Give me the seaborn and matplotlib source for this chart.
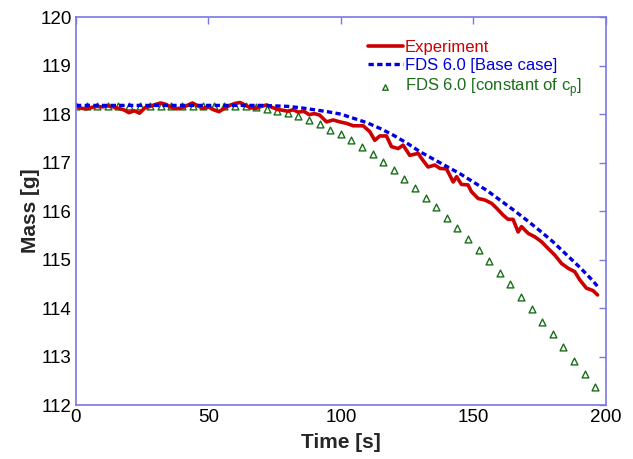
import matplotlib
matplotlib.use('Agg')
import matplotlib.pyplot as plt
import seaborn as sns
import pandas as pd

# Experiment (measured mass, noisy)
t_exp = [0, 2, 4, 6, 8, 10, 12, 14, 16, 18, 20, 22, 24, 26, 28, 30, 32, 34, 36, 38,
         40, 42, 44, 46, 48, 50, 52, 54, 56, 58, 60, 62, 64, 66, 68, 70, 72, 74, 76, 78,
         80, 82, 84, 86, 88, 90, 92, 94.6, 97.1, 99.6, 102.1, 104.7, 108.4, 110.9, 112.8,
         114.7, 117.2, 119.1, 121.6, 123.5, 126, 129.2, 130.4, 132.9, 135.5, 137.4, 139.9,
         142.4, 143.7, 145.5, 148, 149.3, 151.8, 154.3, 156.9, 158.8, 161.2, 163.1, 165,
         166.9, 168.2, 170.7, 173.2, 175.7, 178.2, 180.8, 183.3, 185.8, 188.3, 190.2,
         192.7, 195.2, 196.9]
m_exp = [118.16, 118.12, 118.11, 118.14, 118.16, 118.15, 118.17, 118.15, 118.12, 118.09,
         118.03, 118.07, 118.02, 118.13, 118.16, 118.20, 118.23, 118.20, 118.14, 118.11,
         118.13, 118.18, 118.23, 118.17, 118.12, 118.15, 118.09, 118.05, 118.12, 118.18,
         118.22, 118.24, 118.18, 118.13, 118.12, 118.16, 118.19, 118.14, 118.10, 118.08,
         118.06, 118.09, 118.04, 118.06, 117.99, 118.01, 117.98, 117.84, 117.88, 117.84,
         117.81, 117.76, 117.76, 117.64, 117.46, 117.55, 117.55, 117.33, 117.29, 117.36,
         117.15, 117.19, 117.09, 116.91, 116.95, 116.88, 116.87, 116.60, 116.71, 116.55,
         116.54, 116.40, 116.26, 116.23, 116.16, 116.06, 115.92, 115.83, 115.83, 115.57,
         115.68, 115.54, 115.47, 115.37, 115.23, 115.09, 114.92, 114.82, 114.75, 114.58,
         114.41, 114.36, 114.27]

# FDS 6.0 base case
t_base = [0, 10, 20, 30, 40, 50, 60, 70, 75, 80, 85, 90, 95, 100, 105, 110, 115, 120,
          125, 130, 135, 140, 145, 150, 155, 160, 165, 170, 175, 180, 185, 190, 195, 197]
m_base = [118.18, 118.18, 118.18, 118.18, 118.18, 118.18, 118.18, 118.18, 118.17, 118.16,
          118.13, 118.09, 118.05, 118.00, 117.91, 117.82, 117.70, 117.56, 117.40, 117.22,
          117.07, 116.92, 116.77, 116.60, 116.43, 116.23, 116.03, 115.82, 115.60, 115.37,
          115.11, 114.85, 114.57, 114.44]

# FDS 6.0 constant cp
t_cp = [0, 4, 8, 12, 16, 20, 24, 28, 32, 36, 40, 44, 48, 52, 56, 60, 64, 68, 72, 76,
        80, 84, 88, 92, 96, 100, 104, 108, 112, 116, 120, 124, 128, 132, 136, 140, 144,
        148, 152, 156, 160, 164, 168, 172, 176, 180, 184, 188, 192, 196]
m_cp = [118.17, 118.17, 118.17, 118.17, 118.17, 118.17, 118.17, 118.17, 118.17, 118.17,
        118.17, 118.17, 118.17, 118.17, 118.17, 118.17, 118.16, 118.14, 118.10, 118.06,
        118.03, 117.96, 117.88, 117.79, 117.68, 117.58, 117.46, 117.33, 117.18, 117.02,
        116.85, 116.67, 116.48, 116.28, 116.08, 115.86, 115.65, 115.43, 115.20, 114.97,
        114.73, 114.49, 114.23, 113.98, 113.72, 113.46, 113.19, 112.91, 112.65, 112.38]

df_exp = pd.DataFrame({'t': t_exp, 'm': m_exp})
df_base = pd.DataFrame({'t': t_base, 'm': m_base})
df_cp = pd.DataFrame({'t': t_cp, 'm': m_cp})

sns.set_style('white')
plt.rcParams['font.family'] = ['Liberation Sans', 'DejaVu Sans']

RED = '#cc0000'
BLUE = '#0000dd'
GREEN = '#1a6e1a'
SPINE = '#7878e6'

fig = plt.figure(figsize=(6.33, 4.59), dpi=100)
ax = fig.add_axes([0.120, 0.1176, 0.837, 0.845])

sns.lineplot(data=df_exp, x='t', y='m', ax=ax, color=RED, lw=2.6, label='Experiment')
sns.lineplot(data=df_base, x='t', y='m', ax=ax, color=BLUE, lw=2.4, dashes=False,
             label='FDS 6.0 [Base case]')
ax.lines[-1].set_linestyle((0, (1.6, 1.0)))
sns.scatterplot(data=df_cp, x='t', y='m', ax=ax, marker='^', s=24, facecolor='white',
                edgecolor=GREEN, linewidth=1.0, label=r'FDS 6.0 [constant of c$_\mathregular{p}$]')

ax.set_xlim(0, 200)
ax.set_ylim(112, 120)
ax.set_xticks([0, 50, 100, 150, 200])
ax.set_yticks(range(112, 121))
ax.tick_params(direction='in', length=5, width=1, color=SPINE, labelsize=13.5,
               top=True, right=True, labelcolor='black', pad=3)
for s in ax.spines.values():
    s.set_color(SPINE)
    s.set_linewidth(1.2)
    s.set_visible(True)

ax.set_xlabel('Time [s]', fontsize=15, fontweight='bold', labelpad=5)
ax.set_ylabel('Mass [g]', fontsize=15, fontweight='bold', labelpad=0)

leg = ax.legend(loc='upper left', bbox_to_anchor=(0.581, 0.913), bbox_transform=fig.transFigure,
                frameon=False, fontsize=12, handlelength=2.1, handletextpad=0.12,
                labelspacing=0.2, borderpad=0.0, borderaxespad=0.0, markerscale=0.8)
for txt, c in zip(leg.get_texts(), [RED, BLUE, GREEN]):
    txt.set_color(c)

fig.savefig('out.png', dpi=100)
